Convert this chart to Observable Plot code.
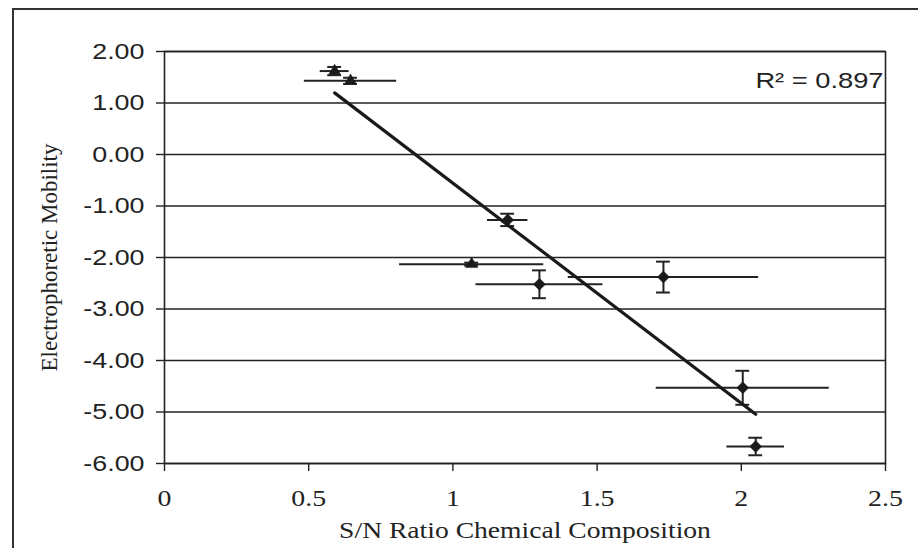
<!DOCTYPE html>
<html>
<head>
<meta charset="utf-8">
<script src="https://cdn.jsdelivr.net/npm/d3@7"></script>
<script src="https://cdn.jsdelivr.net/npm/@observablehq/plot@0.6"></script>
<style>
  html, body { margin: 0; padding: 0; background: #fff; }
  #wrap { position: relative; width: 918px; height: 548px; overflow: hidden; }
  #border { position: absolute; left: 12px; top: 8px; width: 930px; height: 560px;
            border-left: 2px solid #333; border-top: 2px solid #333; box-sizing: border-box; }
  #chart { position: absolute; left: 0; top: 0; }
</style>
</head>
<body>
<div id="wrap"><div id="border"></div><div id="chart"></div></div>
<script>
// Data
const snRatio   = [0.59, 0.645, 1.19, 1.065, 1.30, 1.73, 2.005, 2.05];
const mobility  = [1.62, 1.43, -1.27, -2.13, -2.52, -2.38, -4.53, -5.67];
const snError   = [0.05, 0.16, 0.07, 0.25, 0.22, 0.33, 0.30, 0.10];
const mobError  = [0.08, 0.06, 0.12, 0.03, 0.27, 0.30, 0.33, 0.17];
const markers   = ["triangle", "triangle", "diamond2", "triangle", "diamond2", "diamond2", "diamond2", "diamond2"];
const yTicks    = [2, 1, 0, -1, -2, -3, -4, -5, -6];
const xTicks    = [0, 0.5, 1, 1.5, 2, 2.5];
const rSquaredLabel = "R² = 0.897";
const xTitle = "S/N Ratio Chemical Composition";
const yTitle = "Electrophoretic Mobility";

const data = snRatio.map((x, i) => ({
  x, y: mobility[i], xe: snError[i], ye: mobError[i], shape: markers[i]
}));

const capHalf = 0.024; // half width of error-bar caps in x units
const sans = "'Liberation Sans', Arial, sans-serif";
const serif = "'Liberation Serif', 'Times New Roman', serif";

const chart = Plot.plot({
  width: 918,
  height: 548,
  marginLeft: 164,
  marginRight: 33,
  marginTop: 51,
  marginBottom: 85,
  style: { background: "transparent", color: "#222" },
  x: { domain: [0, 2.5] },
  y: { domain: [-6, 2] },
  marks: [
    Plot.ruleY(yTicks, { stroke: "#222", strokeWidth: 1.6 }),
    Plot.frame({ stroke: "#222", strokeWidth: 1.6 }),
    Plot.axisY({
      ticks: yTicks, tickSize: 8, tickPadding: 12, tickFormat: d => d.toFixed(2),
      fontSize: 22, fontFamily: sans, label: null, stroke: "#222", strokeWidth: 1.4,
      className: "ytick"
    }),
    Plot.axisX({
      ticks: xTicks, tickSize: 8, tickPadding: 17, tickFormat: d => String(d),
      fontSize: 24, fontFamily: serif, label: null, stroke: "#222", strokeWidth: 1.4,
      className: "xtick"
    }),
    // horizontal (x) error bars
    Plot.ruleY(data, { y: "y", x1: d => d.x - d.xe, x2: d => d.x + d.xe, stroke: "#222", strokeWidth: 2 }),
    // vertical (y) error bars
    Plot.ruleX(data, { x: "x", y1: d => d.y - d.ye, y2: d => d.y + d.ye, stroke: "#222", strokeWidth: 2 }),
    Plot.ruleY(data, { y: d => d.y + d.ye, x1: d => d.x - capHalf, x2: d => d.x + capHalf, stroke: "#222", strokeWidth: 2 }),
    Plot.ruleY(data, { y: d => d.y - d.ye, x1: d => d.x - capHalf, x2: d => d.x + capHalf, stroke: "#222", strokeWidth: 2 }),
    // trend line
    Plot.linearRegressionY(data, { x: "x", y: "y", ci: 0, stroke: "#1a1a1a", strokeWidth: 3.2 }),
    // markers
    Plot.dot(data.filter(d => d.shape === "triangle"), { x: "x", y: "y", symbol: "triangle", r: 4.4,
      fill: "#1a1a1a", stroke: "#1a1a1a", strokeWidth: 0.5 }),
    Plot.dot(data.filter(d => d.shape === "diamond2"), { x: "x", y: "y", symbol: "diamond2", r: 5.4,
      fill: "#1a1a1a", stroke: "#1a1a1a", strokeWidth: 0.5 }),
    Plot.text([rSquaredLabel], { text: d => d, frameAnchor: "top-right", dx: -2, dy: 29,
      textAnchor: "end", lineAnchor: "middle", fontSize: 22, fontFamily: sans, fill: "#222",
      className: "rsq" }),
    Plot.text([xTitle], { text: d => d, frameAnchor: "bottom", dy: 67, lineAnchor: "middle",
      textAnchor: "middle", fontSize: 24, fontFamily: serif, fill: "#222", className: "xtitle" }),
    Plot.text([yTitle], { text: d => d, frameAnchor: "left", dx: -115, rotate: -90, lineAnchor: "middle",
      textAnchor: "middle", fontSize: 23, fontFamily: serif, fill: "#222" })
  ]
});
document.getElementById("chart").appendChild(chart);

// The reference scan is stretched horizontally: widen the horizontal texts to match
function widen(selector, factor) {
  chart.querySelectorAll(selector + " text").forEach(t => {
    const w = t.getComputedTextLength();
    if (w > 0) {
      t.setAttribute("textLength", (w * factor).toFixed(1));
      t.setAttribute("lengthAdjust", "spacingAndGlyphs");
    }
  });
}
widen(".ytick", 1.22);
widen(".xtick", 1.16);
widen(".rsq", 1.24);
widen(".xtitle", 1.15);
</script>
</body>
</html>
